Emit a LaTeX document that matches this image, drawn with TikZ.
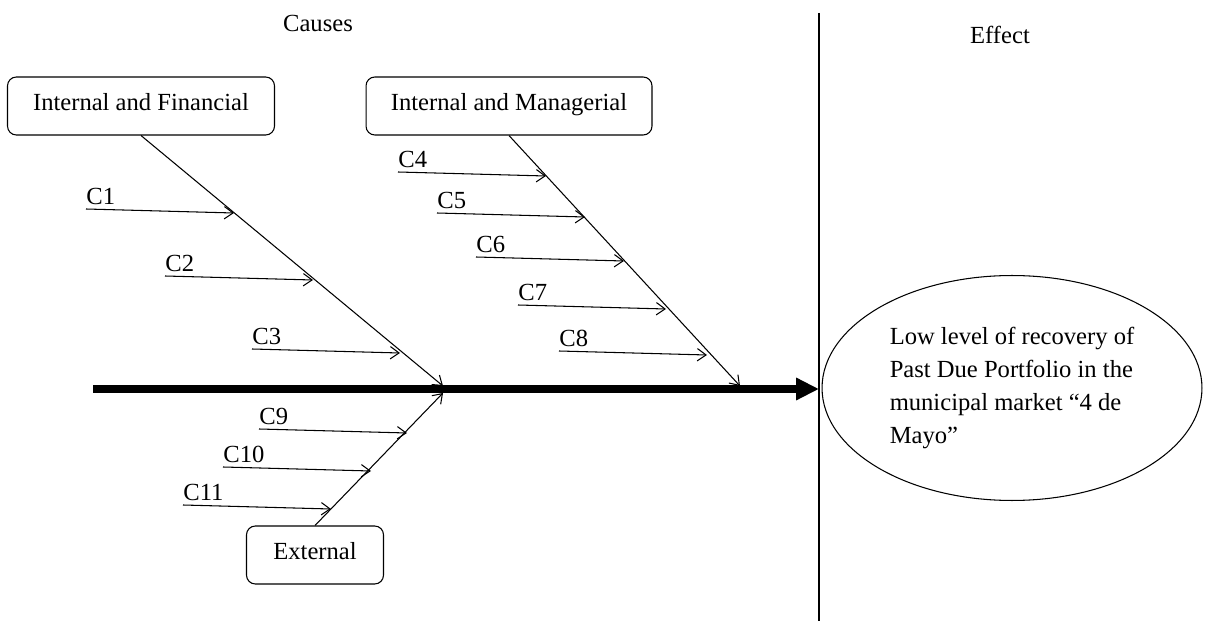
\documentclass[tikz,border=0pt]{standalone}
\usepackage{fontspec}
\setmainfont{Liberation Serif}
\usetikzlibrary{shapes.geometric, arrows, arrows.meta, positioning}

\begin{document}
\begin{tikzpicture}[x=0.02cm, y=-0.02cm, font=\fontsize{14}{18.7}\selectfont]
    \tikzstyle{category} = [rectangle, rounded corners=5pt, minimum height=1.16cm, text height=1.6ex, text depth=0.4ex, text centered, draw=black, semithick]
    \tikzstyle{effect} = [ellipse, minimum width=7.6cm, minimum height=4.5cm, inner sep=0pt, align=left, draw=black, semithick]
    \tikzstyle{cause} = [anchor=south west, inner xsep=0pt, inner ysep=2pt]
    \tikzstyle{arrow} = [semithick, -{Straight Barb[length=5pt, width=7pt]}]
    \tikzstyle{spine} = [line width=4pt, -{Triangle[length=13pt, width=12pt]}]

    \useasboundingbox (0,0) rectangle (1214,621);

    % headings and separator
    \node (causes) at (318,23) {Causes};
    \node (effecttitle) at (1000,35) {Effect};
    \coordinate (sepTop) at (819,13);
    \coordinate (sepBot) at (819,621);
    \draw [semithick] (sepTop) -- (sepBot);

    % main spine
    \coordinate (tail) at (93,389);
    \coordinate (head) at (819,389);
    \draw [spine] (tail) -- (head);

    % categories
    \node (financial) [category, minimum width=5.34cm] at (141,106) {Internal and Financial};
    \node (managerial) [category, minimum width=5.72cm] at (509,106) {Internal and Managerial};
    \node (external) [category, minimum width=2.74cm] at (315,555) {External};

    \coordinate (joinF) at (443,386);
    \coordinate (joinM) at (740,386);
    \coordinate (joinE) at (443,393);
    \draw [arrow] (financial.south) -- (joinF);
    \draw [arrow] (managerial.south) -- (joinM);
    \draw [arrow] (external.north) -- (joinE);

    % causes
    \foreach \n/\x/\y in {1/86/209, 2/165/276, 3/252/349, 4/398/172, 5/437/213, 6/476/257,
                          7/518/305, 8/559/351, 9/259/429, 10/223/467, 11/183/505} {
        \node (c\n) [cause] at (\x,\y) {C\n};
        \coordinate (e\n) at (\x+148,\y+4);
        \draw [arrow] (c\n.south west) -- (e\n);
    }

    % effect
    \node (problem) [effect] at (1012,388) {Low level of recovery of\\Past Due Portfolio in the\\municipal market “4 de\\Mayo”};
\end{tikzpicture}
\end{document}
